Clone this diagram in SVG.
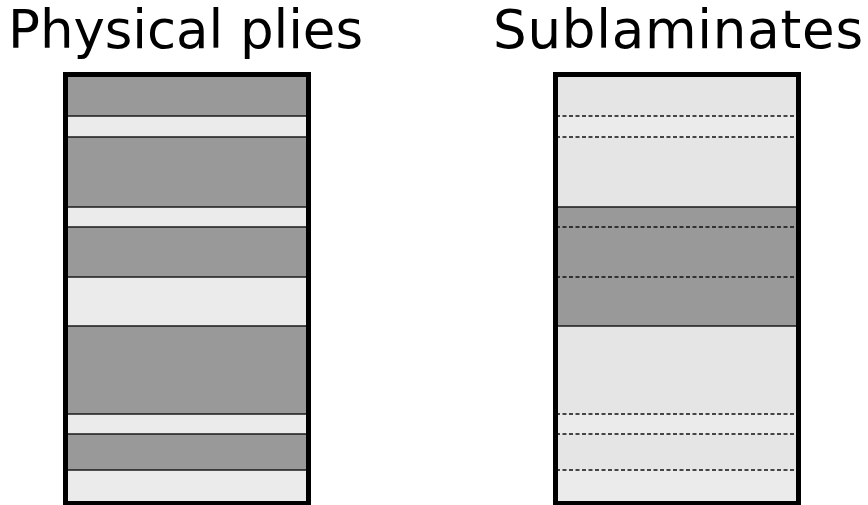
<svg xmlns="http://www.w3.org/2000/svg" width="868" height="505" viewBox="0 0 868 505">
  <style>
    .title { font-family: "DejaVu Sans", Verdana, sans-serif; font-size: 53px; fill: #000; }
    .dark { fill: #999999; }
    .ply { fill: #ebebeb; }
    .sub { fill: #e5e5e5; }
    .edge { stroke: #1a1a1a; stroke-width: 1.5; }
    .dash { stroke: #111; stroke-width: 1.3; stroke-dasharray: 4 2.5; }
    .frame { fill: none; stroke: #000; stroke-width: 5; }
  </style>

  <g id="title-plies"><text class="title" x="8" y="48" textLength="355">Physical plies</text></g>
  <g id="title-sublaminates"><text class="title" x="493" y="48" textLength="370">Sublaminates</text></g>

  <!-- Stack of physical plies -->
  <g id="plies">
    <rect class="dark" x="66" y="75" width="242" height="41"/>
    <rect class="ply" x="66" y="116" width="242" height="21"/>
    <rect class="dark" x="66" y="137" width="242" height="70"/>
    <rect class="ply" x="66" y="207" width="242" height="20"/>
    <rect class="dark" x="66" y="227" width="242" height="50"/>
    <rect class="ply" x="66" y="277" width="242" height="49"/>
    <rect class="dark" x="66" y="326" width="242" height="88"/>
    <rect class="ply" x="66" y="414" width="242" height="20"/>
    <rect class="dark" x="66" y="434" width="242" height="36"/>
    <rect class="ply" x="66" y="470" width="242" height="33"/>
    <g class="edge">
      <line x1="66" y1="116" x2="308" y2="116"/>
      <line x1="66" y1="137" x2="308" y2="137"/>
      <line x1="66" y1="207" x2="308" y2="207"/>
      <line x1="66" y1="227" x2="308" y2="227"/>
      <line x1="66" y1="277" x2="308" y2="277"/>
      <line x1="66" y1="326" x2="308" y2="326"/>
      <line x1="66" y1="414" x2="308" y2="414"/>
      <line x1="66" y1="434" x2="308" y2="434"/>
      <line x1="66" y1="470" x2="308" y2="470"/>
    </g>
    <rect class="frame" x="65.5" y="74.5" width="243" height="429"/>
  </g>

  <!-- Stack grouped into sublaminates -->
  <g id="sublaminates">
    <rect class="sub" x="556" y="75" width="242" height="41"/>
    <rect class="ply" x="556" y="116" width="242" height="21"/>
    <rect class="sub" x="556" y="137" width="242" height="70"/>
    <rect class="dark" x="556" y="207" width="242" height="119"/>
    <rect class="sub" x="556" y="326" width="242" height="88"/>
    <rect class="ply" x="556" y="414" width="242" height="20"/>
    <rect class="sub" x="556" y="434" width="242" height="36"/>
    <rect class="ply" x="556" y="470" width="242" height="33"/>
    <g class="edge">
      <line x1="556" y1="207" x2="798" y2="207"/>
      <line x1="556" y1="326" x2="798" y2="326"/>
    </g>
    <g class="dash">
      <line x1="556" y1="116" x2="798" y2="116"/>
      <line x1="556" y1="137" x2="798" y2="137"/>
      <line x1="556" y1="227" x2="798" y2="227"/>
      <line x1="556" y1="277" x2="798" y2="277"/>
      <line x1="556" y1="414" x2="798" y2="414"/>
      <line x1="556" y1="434" x2="798" y2="434"/>
      <line x1="556" y1="470" x2="798" y2="470"/>
    </g>
    <rect class="frame" x="555.5" y="74.5" width="243" height="429"/>
  </g>
</svg>
